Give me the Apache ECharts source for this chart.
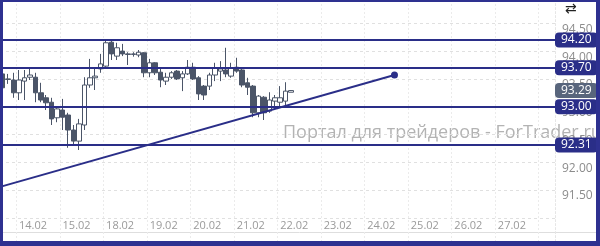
<!DOCTYPE html>
<html><head><meta charset="utf-8">
<script src="https://cdn.jsdelivr.net/npm/echarts@6/dist/echarts.min.js"></script>
<style>html,body{margin:0;padding:0;background:#fff}#c{width:600px;height:246px}</style>
</head><body><div id="c"></div>
<script>
// ---- data ----
const days = ['13.02','14.02','15.02','18.02','19.02','20.02','21.02','22.02','23.02','24.02','25.02','26.02','27.02','28.02'];
const hours = ['00','03','06','09','12','15','18','21'];
const firstDayHours = ['15','18','21'];
const tickLabels = ['14.02','15.02','18.02','19.02','20.02','21.02','22.02','23.02','24.02','25.02','26.02','27.02'];
const slotCount = 102;
const opens  = [93.59,93.50,93.48,93.25,93.46,93.53,93.53,93.25,93.16,93.08,92.80,92.94,92.85,92.58,92.38,92.67,93.39,93.52,93.68,93.73,94.16,93.91,94.00,93.95,93.94,93.93,93.97,93.61,93.79,93.62,93.46,93.53,93.64,93.52,93.59,93.71,93.52,93.37,93.37,93.57,93.64,93.66,93.55,93.71,93.66,93.43,93.37,92.89,93.17,92.92,93.10,93.08,93.10,93.26];
const closes = [93.34,93.49,93.25,93.48,93.52,93.57,93.25,93.12,93.07,92.78,92.96,92.81,92.58,92.38,92.69,93.39,93.52,93.55,93.77,94.15,93.95,94.06,93.95,93.94,93.95,93.98,93.61,93.79,93.61,93.48,93.53,93.61,93.50,93.59,93.71,93.50,93.23,93.21,93.57,93.70,93.68,93.59,93.70,93.64,93.39,93.35,92.89,93.19,92.89,93.12,93.16,93.16,93.28,93.29];
const lows   = [93.30,93.41,93.16,93.12,93.12,93.48,93.08,93.08,92.94,92.67,92.72,92.58,92.26,92.31,92.22,92.58,93.34,93.30,93.61,93.70,93.84,93.84,93.91,93.75,93.90,93.89,93.53,93.53,93.57,93.35,93.39,93.50,93.48,93.28,93.57,93.48,93.12,93.12,93.30,93.46,93.46,93.53,93.52,93.61,93.35,93.21,92.81,92.81,92.76,92.89,92.94,93.01,93.03,93.26];
const highs  = [93.62,93.59,93.61,93.66,93.66,93.70,93.61,93.43,93.21,93.16,93.00,93.14,92.89,92.67,92.78,93.53,93.86,93.71,93.95,94.20,94.20,94.15,94.13,93.98,93.98,94.02,93.98,93.86,93.80,93.71,93.61,93.64,93.66,93.64,93.84,93.79,93.55,93.39,93.61,93.79,93.82,94.06,93.79,93.88,93.70,93.52,93.39,93.21,93.19,93.26,93.21,93.37,93.44,93.30];
const levels = [94.20, 93.70, 93.00, 92.31];
const currentPrice = 93.29;
const trendStart = 91.57, trendEnd = 93.57, trendEndIndex = 72;
const yTickLabels = ['94.50','94.00','93.50','93.00','92.50','92.00','91.50'];
const watermark = 'Портал для трейдеров - ForTrader.ru';

// ---- build ----
const cats = [];
days.forEach((d, di) => (di === 0 ? firstDayHours : hours).forEach(h => cats.push(d + ' ' + h)));
cats.length = slotCount;
const candles = opens.map((o, i) => [o, closes[i], lows[i], highs[i]]);

const NAVY = '#2a2e88', CANDLE = '#4b5568', FRAME = '#2e3190';
const chart = echarts.init(document.getElementById('c'), null, {renderer: 'canvas'});
chart.setOption({
  animation: false,
  backgroundColor: '#fff',
  grid: {left: 0, right: 45, top: 0, bottom: 0.43},
  xAxis: {
    type: 'category', data: cats, boundaryGap: true,
    axisLine: {show: false}, axisTick: {show: false},
    axisLabel: {
      inside: true, margin: 14, align: 'left', color: '#9a9a9a', fontSize: 11, fontFamily: 'Open Sans',
      interval: (i, v) => v.endsWith(' 00') && tickLabels.includes(v.split(' ')[0]),
      formatter: v => v.split(' ')[0]
    },
    splitLine: {show: true, interval: (i, v) => v.endsWith(' 00'), lineStyle: {color: '#ebebeb', type: [2, 2]}}
  },
  yAxis: {
    type: 'value', position: 'right', min: 90.5, max: 94.92, interval: 0.5,
    axisLine: {show: true, lineStyle: {color: '#e6e6e6', type: [2, 2]}}, axisTick: {show: false},
    axisLabel: {
      margin: 7, verticalAlign: 'top', color: '#8c8c8c', fontSize: 12, fontFamily: 'Open Sans',
      showMaxLabel: false,
      formatter: v => yTickLabels.includes(v.toFixed(2)) ? v.toFixed(2) : ''
    },
    splitLine: {show: true, lineStyle: {color: '#e0e0e0', type: [3, 3]}}
  },
  series: [
    {
      type: 'candlestick', data: candles, barWidth: 5,
      itemStyle: {color: '#ffffff', color0: CANDLE, borderColor: CANDLE, borderColor0: CANDLE, borderColorDoji: CANDLE, borderWidth: 1},
      markLine: {
        silent: true, symbol: ['none', 'none'], precision: 2, animation: false,
        lineStyle: {color: NAVY, width: 2, type: 'solid'},
        label: {
          show: true, position: 'end', distance: 0, color: '#fff', backgroundColor: NAVY,
          borderRadius: 4, padding: [1, 6, 0, 6], lineHeight: 14, fontSize: 12, fontFamily: 'Open Sans',
          formatter: p => Number(p.value).toFixed(2)
        },
        data: levels.map(v => ({yAxis: v})).concat([{
          yAxis: currentPrice, lineStyle: {color: 'rgba(0,0,0,0)', width: 0},
          label: {show: true, backgroundColor: '#58657c', color: '#fff'}
        }])
      }
    },
    {
      type: 'line',
      data: [{value: [cats[0], trendStart], symbol: 'none'}, {value: [cats[trendEndIndex], trendEnd], symbol: 'circle', symbolSize: 7}],
      symbol: 'circle', symbolSize: 7, showSymbol: true, showAllSymbol: true,
      lineStyle: {color: NAVY, width: 2}, itemStyle: {color: NAVY},
      z: 3
    }
  ],
  graphic: [
    {type: 'text', left: 283, top: 124, z: -1, silent: true,
      style: {text: watermark, fill: '#b3b3b3', font: '18px "Open Sans"'}},
    {type: 'line', shape: {x1: 3, y1: 232.5, x2: 596, y2: 232.5}, style: {stroke: '#dedede', lineWidth: 1}, silent: true},
    {type: 'text', left: 565, top: 2, style: {text: '⇄', fill: '#222', font: '14px "DejaVu Sans"'}},
    {type: 'rect', shape: {x: 0, y: 0, width: 600, height: 2}, style: {fill: FRAME}, z: 100},
    {type: 'rect', shape: {x: 0, y: 241, width: 600, height: 5}, style: {fill: FRAME}, z: 100},
    {type: 'rect', shape: {x: 0, y: 0, width: 3, height: 246}, style: {fill: FRAME}, z: 100},
    {type: 'rect', shape: {x: 596, y: 0, width: 4, height: 246}, style: {fill: FRAME}, z: 100}
  ]
});
</script></body></html>
